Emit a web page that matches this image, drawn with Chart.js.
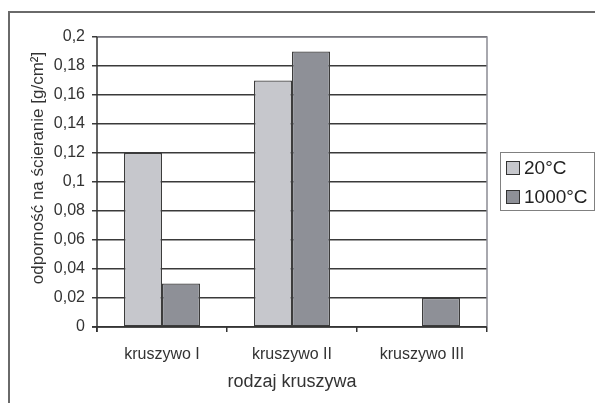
<!DOCTYPE html>
<html><head><meta charset="utf-8">
<script src="https://cdn.jsdelivr.net/npm/chart.js@4/dist/chart.umd.min.js"></script>
<style>html,body{margin:0;padding:0;background:#fff}#wrap{width:595px;height:403px}</style>
</head><body><div id="wrap"><canvas id="c" width="595" height="403"></canvas></div>
<script>
const categories = ['kruszywo I', 'kruszywo II', 'kruszywo III'];
const series20 = [0.12, 0.17, 0];
const series1000 = [0.03, 0.19, 0.02];
const seriesLabels = ['20°C', '1000°C'];
const yTitle = 'odporność na ścieranie [g/cm²]';
const xTitle = 'rodzaj kruszywa';

const FONT = '"Liberation Sans", Arial, sans-serif';

const frame = {
  id: 'frame',
  beforeDraw(chart) {
    const ctx = chart.ctx;
    ctx.save();
    ctx.fillStyle = '#fff';
    ctx.fillRect(0, 0, chart.width, chart.height);
    ctx.strokeStyle = '#6a6a6a';
    ctx.lineWidth = 2;
    ctx.beginPath();
    ctx.moveTo(9, 403); ctx.lineTo(9, 12); ctx.lineTo(595, 12);
    ctx.stroke();
    // y axis title
    ctx.translate(38, 168);
    ctx.rotate(-Math.PI / 2);
    ctx.font = '17px ' + FONT;
    ctx.fillStyle = '#333';
    ctx.textAlign = 'center';
    ctx.textBaseline = 'middle';
    ctx.fillText(yTitle, 0, 0);
    ctx.restore();
  },
  afterDatasetsDraw(chart) {
    const ctx = chart.ctx, a = chart.chartArea;
    ctx.save();
    ctx.strokeStyle = '#8c8c94';
    ctx.lineWidth = 1.5;
    ctx.beginPath();
    ctx.moveTo(a.left, a.top); ctx.lineTo(a.right, a.top); ctx.lineTo(a.right, a.bottom);
    ctx.stroke();
    ctx.strokeStyle = '#333';
    ctx.lineWidth = 1.5;
    ctx.beginPath();
    ctx.moveTo(a.left, a.top); ctx.lineTo(a.left, a.bottom + 5);
    ctx.moveTo(a.left - 5, a.bottom); ctx.lineTo(a.right, a.bottom);
    ctx.stroke();
    // legend
    const lx = 500, ly = 152, lw = 94, lh = 58;
    ctx.strokeStyle = '#808080';
    ctx.lineWidth = 1;
    ctx.strokeRect(lx + 0.5, ly + 0.5, lw, lh);
    ctx.font = '19px ' + FONT;
    ctx.textBaseline = 'middle';
    chart.data.datasets.forEach((ds, i) => {
      const y = 168 + i * 29;
      ctx.fillStyle = ds.backgroundColor;
      ctx.fillRect(506, y - 7, 14, 14);
      ctx.strokeStyle = '#333';
      ctx.strokeRect(506.5, y - 6.5, 13, 13);
      ctx.fillStyle = '#222';
      ctx.fillText(ds.label, 524, y + 1);
    });
    ctx.restore();
  }
};

new Chart(document.getElementById('c'), {
  type: 'bar',
  data: {
    labels: categories,
    datasets: [
      { label: seriesLabels[0], data: series20, backgroundColor: '#c6c7cc', borderColor: '#3c3c3c', borderWidth: 1.3, borderSkipped: false },
      { label: seriesLabels[1], data: series1000, backgroundColor: '#8e9097', borderColor: '#3c3c3c', borderWidth: 1.3, borderSkipped: false }
    ]
  },
  options: {
    responsive: false,
    animation: false,
    devicePixelRatio: 1,
    layout: { padding: { left: 0, top: 37, right: 108, bottom: 0 } },
    plugins: { legend: { display: false }, tooltip: { enabled: false } },
    datasets: { bar: { categoryPercentage: 0.585, barPercentage: 1 } },
    scales: {
      x: {
        grid: { display: true, offset: true, drawOnChartArea: false, drawTicks: true, tickLength: 5, color: '#333', lineWidth: 1.5 },
        border: { display: false },
        ticks: { color: '#333', font: { family: FONT, size: 16 }, padding: 13, maxRotation: 0 },
        title: { display: true, text: xTitle, color: '#333', font: { family: FONT, size: 18 }, padding: { top: 0, bottom: 10 } },
        afterFit(s) { s.height = 76; }
      },
      y: {
        min: 0, max: 0.2,
        grid: { color: '#3a3a3a', lineWidth: 1.5, drawTicks: true, tickLength: 5 },
        border: { display: false },
        ticks: {
          stepSize: 0.02, color: '#333', font: { family: FONT, size: 16 }, padding: 7,
          callback: v => (Math.round(v * 100) / 100).toString().replace('.', ',')
        },
        title: { display: false },
        afterFit(s) { s.width = 97; }
      }
    }
  },
  plugins: [frame]
});
</script></body></html>
